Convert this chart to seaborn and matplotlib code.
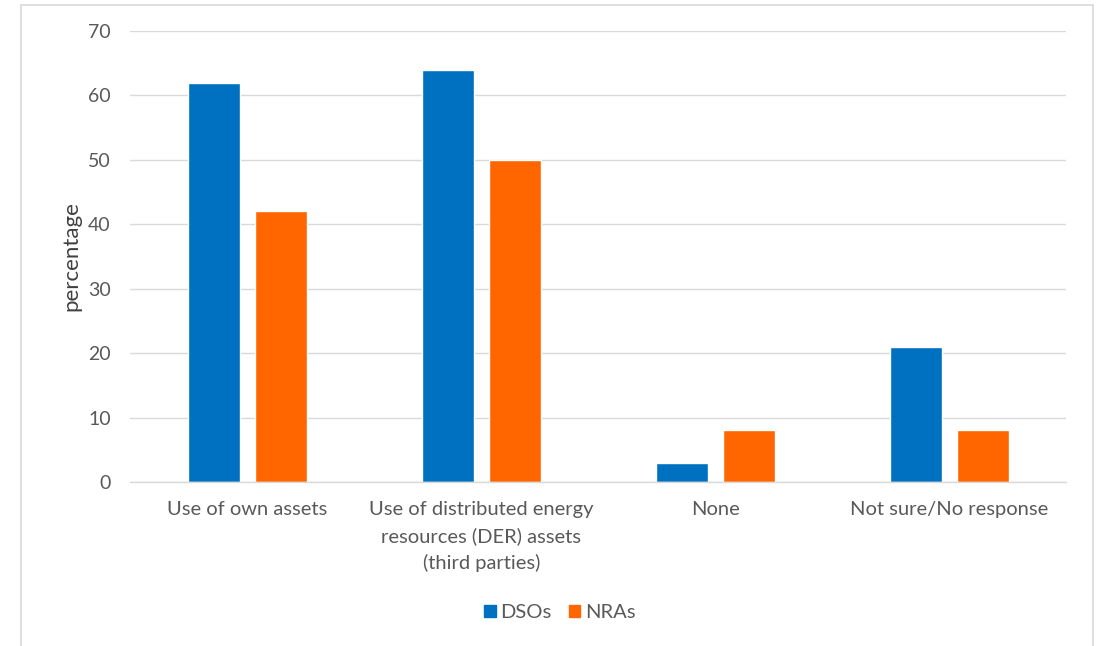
import matplotlib
matplotlib.use("Agg")
import matplotlib.pyplot as plt
import seaborn as sns
import pandas as pd
from matplotlib.patches import Rectangle

categories = [
    "Use of own assets",
    "Use of distributed energy\nresources (DER) assets\n(third parties)",
    "None",
    "Not sure/No response",
]
dsos = [62, 64, 3, 21]
nras = [42, 50, 8, 8]
series_names = ["DSOs", "NRAs"]
colors = ["#0070C0", "#FF6600"]

df = pd.DataFrame({
    "category": categories * 2,
    "value": dsos + nras,
    "group": [series_names[0]] * len(categories) + [series_names[1]] * len(categories),
})

sns.set_theme(style="white")
plt.rcParams["font.family"] = ["Lato", "DejaVu Sans"]

fig = plt.figure(figsize=(11.04, 6.46), dpi=100)
ax = fig.add_axes([0.118, 0.254, 0.848, 0.698])

sns.barplot(data=df, x="category", y="value", hue="group",
            palette=colors, width=0.57, gap=0.22, saturation=1,
            order=categories, hue_order=series_names, ax=ax, legend=True)

ax.set_ylim(0, 70)
ax.set_yticks(range(0, 71, 10))
ax.set_xlim(-0.5, len(categories) - 0.5)
ax.yaxis.grid(True, color="#D9D9D9", linewidth=1)
ax.set_axisbelow(True)
for side in ["left", "right", "top"]:
    ax.spines[side].set_visible(False)
ax.spines["bottom"].set_color("#D9D9D9")
ax.spines["bottom"].set_linewidth(1)

ax.tick_params(axis="y", length=0, colors="#595959", labelsize=14, pad=14)
ax.tick_params(axis="x", length=0, colors="#595959", labelsize=14.5, pad=14)
for lbl in ax.get_xticklabels():
    lbl.set_linespacing(1.6)
ax.set_xlabel("")
ax.set_ylabel("percentage", fontsize=16, color="#404040", labelpad=5)

# legend centred on the whole frame, below the category labels
ax.get_legend().remove()
handles = [Rectangle((0, 0), 1, 1, color=c) for c in colors]
leg = fig.legend(handles, series_names, loc="center", bbox_to_anchor=(560 / 1104, 1 - 613 / 646),
                 ncol=2, frameon=False, fontsize=14.5, handlelength=0.55, handleheight=0.55,
                 handletextpad=0.25, columnspacing=0.85)
for t in leg.get_texts():
    t.set_color("#595959")

# thin frame around the chart area
fig.patches.append(Rectangle((21 / 1104, -0.01), (1093 - 21) / 1104, 1 - 5 / 646 + 0.01,
                             transform=fig.transFigure, fill=False,
                             edgecolor="#D9D9D9", linewidth=1.2))

fig.savefig("out.png", dpi=100, facecolor="white")
